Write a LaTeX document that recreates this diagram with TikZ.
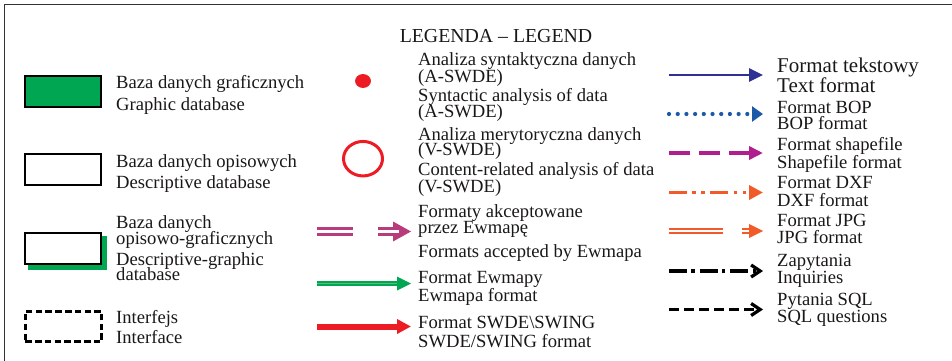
\documentclass[tikz,border=0pt]{standalone}
\usepackage{fontspec}
\setmainfont{Liberation Serif}
\usetikzlibrary{arrows.meta,shapes.geometric}
\definecolor{txt}{HTML}{1A1718}
\definecolor{gdb}{HTML}{00A651}
\definecolor{gdblt}{HTML}{5DBB7A}
\definecolor{rd}{HTML}{ED1C24}
\definecolor{pinkm}{HTML}{B83C7C}
\definecolor{blueA}{HTML}{2E3192}
\definecolor{blueB}{HTML}{1C5AA8}
\definecolor{magA}{HTML}{B01F8E}
\definecolor{orng}{HTML}{F15A29}
\definecolor{frm}{HTML}{333333}
\begin{document}
\begin{tikzpicture}[x=1pt,y=-1pt,
  lbl/.style={anchor=base west, inner sep=0pt, text=txt, font=\fontsize{18.6}{18.6}\selectfont},
  lblbig/.style={lbl, font=\fontsize{21}{21}\selectfont},
  dbbox/.style={draw=black, line width=2pt, minimum width=76pt, minimum height=31pt, inner sep=0pt},
  tri/.style={-{Triangle[length=14pt,width=13pt]}},
  barb/.style={-{Straight Barb[length=9pt,width=12pt]}}
]
\useasboundingbox (0,0) rectangle (952,361);
\clip (0,0) rectangle (952,361);
\draw[frm, line width=1.8pt] (4.5,4.5) rectangle (990,400);

% title
\node[lbl, anchor=base, font=\fontsize{19.8}{19.8}\selectfont] (title) at (496,42) {LEGENDA \textendash{} LEGEND};

% ---- left column
\node[dbbox, fill=gdb] (gbox) at (63,91.5) {};
\node[lbl] (t1a) at (116,88) {Baza danych graficznych};
\node[lbl] (t1b) at (116,110) {Graphic database};

\node[dbbox, fill=white] (dbox) at (63,169.5) {};
\node[lbl] (t2a) at (116,167) {Baza danych opisowych};
\node[lbl] (t2b) at (116,188) {Descriptive database};

\fill[gdb] (28,236) rectangle (107,269.5);
\node[dbbox, fill=white] (dgbox) at (63,248.5) {};
\node[lbl] (t3a) at (116,228) {Baza danych};
\node[lbl] (t3b) at (116,244) {opisowo-graficznych};
\node[lbl] (t3c) at (116,265) {Descriptive-graphic};
\node[lbl] (t3d) at (116,280) {database};

\node[draw=black, line width=2.6pt, dash pattern=on 6.5pt off 3.3pt, minimum width=76.5pt, minimum height=30.5pt, inner sep=0pt] (ibox) at (63.5,326.5) {};
\node[lbl] (t4a) at (116,323) {Interfejs};
\node[lbl] (t4b) at (116,343) {Interface};

% ---- middle column
\node[ellipse, fill=rd, draw=rd, line width=0.8pt, minimum width=15pt, minimum height=13pt, inner sep=0pt] (adot) at (363,81) {};
\node[lbl] (m1a) at (418,66) {Analiza syntaktyczna danych};
\node[lbl] (m1b) at (418,82) {(A-SWDE)};
\node[lbl] (m1c) at (418,101) {Syntactic analysis of data};
\node[lbl] (m1d) at (418,117) {(A-SWDE)};

\node[ellipse, draw=rd, line width=3pt, minimum width=39pt, minimum height=34.5pt, inner sep=0pt] (vring) at (363,158.7) {};
\node[lbl] (m2a) at (418,140) {Analiza merytoryczna danych};
\node[lbl] (m2b) at (418,155) {(V-SWDE)};
\node[lbl] (m2c) at (418,175) {Content-related analysis of data};
\node[lbl] (m2d) at (418,192) {(V-SWDE)};

% pink double arrow
\coordinate (p1) at (317,231.5); \coordinate (p2) at (353,231.5);
\coordinate (p3) at (378,231.5); \coordinate (p4) at (399,231.5);
\coordinate (p5) at (393,221.5); \coordinate (p6) at (411,231.5); \coordinate (p7) at (393,241.5);
\draw[pinkm, line width=3pt, double=white, double distance=3pt] (p1) -- (p2);
\fill[pinkm] (p5) -- (p6) -- (p7) -- cycle;
\draw[pinkm, line width=3pt, double=white, double distance=3pt] (p3) -- (p4);
\node[lbl] (m3a) at (418,217) {Formaty akceptowane};
\node[lbl] (m3b) at (418,233) {przez Ewmapę};
\node[lbl] (m3c) at (418,257) {Formats accepted by Ewmapa};

% green arrow
\coordinate (g1) at (317,283.5); \coordinate (g2) at (399,283.5);
\coordinate (g3) at (397,276.5); \coordinate (g4) at (411,283.5); \coordinate (g5) at (397,290.5);
\draw[gdb, line width=2.4pt, double=gdblt, double distance=1pt] (g1) -- (g2);
\fill[gdb] (g3) -- (g4) -- (g5) -- cycle;
\node[lbl] (m4a) at (418,283) {Format Ewmapy};
\node[lbl] (m4b) at (418,301) {Ewmapa format};

% red arrow
\coordinate (r1) at (317,326.5); \coordinate (r2) at (411,326.5);
\draw[rd, line width=6pt, -{Triangle[length=14pt,width=14pt]}] (r1) -- (r2);
\node[lbl] (m5a) at (418,328) {Format SWDE\textbackslash SWING};
\node[lbl] (m5b) at (418,347) {SWDE/SWING format};

% ---- right column
\coordinate (a1) at (669,75); \coordinate (b1) at (763,75);
\draw[blueA, line width=2.6pt, tri] (a1) -- (b1);
\node[lblbig] (r1a) at (777,73) {Format tekstowy};
\node[lblbig] (r1b) at (777,92) {Text format};

\coordinate (a2) at (669,114); \coordinate (b2) at (763,114);
\draw[blueB, line width=4.2pt, line cap=round, dash pattern=on 0pt off 8.7pt, -{Triangle[length=11pt,width=15pt]}] (a2) -- (b2);
\node[lbl] (r2a) at (777,113) {Format BOP};
\node[lbl] (r2b) at (777,129) {BOP format};

\coordinate (a3) at (669,153); \coordinate (b3) at (763,153);
\draw[magA, line width=3.6pt, dash pattern=on 20.7pt off 9.3pt, tri] (a3) -- (b3);
\node[lbl] (r3a) at (777,150) {Format shapefile};
\node[lbl] (r3b) at (777,168) {Shapefile format};

\coordinate (a4) at (669,192.5); \coordinate (b4) at (763,192.5);
\draw[orng, line width=3.6pt, dash pattern=on 18pt off 5.4pt on 3.3pt off 5.7pt on 3.3pt off 5.7pt, -{Triangle[length=14pt,width=14pt]}] (a4) -- (b4);
\node[lbl] (r4a) at (777,188) {Format DXF};
\node[lbl] (r4b) at (777,206) {DXF format};

\coordinate (a5) at (669,231); \coordinate (c5) at (723,231);
\coordinate (d5) at (742,231); \coordinate (e5) at (752,231);
\coordinate (h5a) at (749,224); \coordinate (b5) at (763,231); \coordinate (h5b) at (749,238);
\draw[orng, line width=2.3pt, double=white, double distance=1.8pt] (a5) -- (c5);
\draw[orng, line width=2.3pt, double=white, double distance=1.8pt] (d5) -- (e5);
\fill[orng] (h5a) -- (b5) -- (h5b) -- cycle;
\node[lbl] (r5a) at (777,226) {Format JPG};
\node[lbl] (r5b) at (777,243) {JPG format};

\coordinate (a6) at (669,271); \coordinate (b6) at (763,271);
\draw[black, line width=3.2pt, dash pattern=on 18pt off 4.4pt on 3.3pt off 5pt, barb] (a6) -- (b6);
\node[lbl] (r6a) at (777,266) {Zapytania};
\node[lbl] (r6b) at (777,283) {Inquiries};

\coordinate (a7) at (669,309.5); \coordinate (b7) at (763,309.5);
\draw[black, line width=3.2pt, dash pattern=on 10pt off 5pt, barb] (a7) -- (b7);
\node[lbl] (r7a) at (777,305) {Pytania SQL};
\node[lbl] (r7b) at (777,322) {SQL questions};
\end{tikzpicture}
\end{document}
